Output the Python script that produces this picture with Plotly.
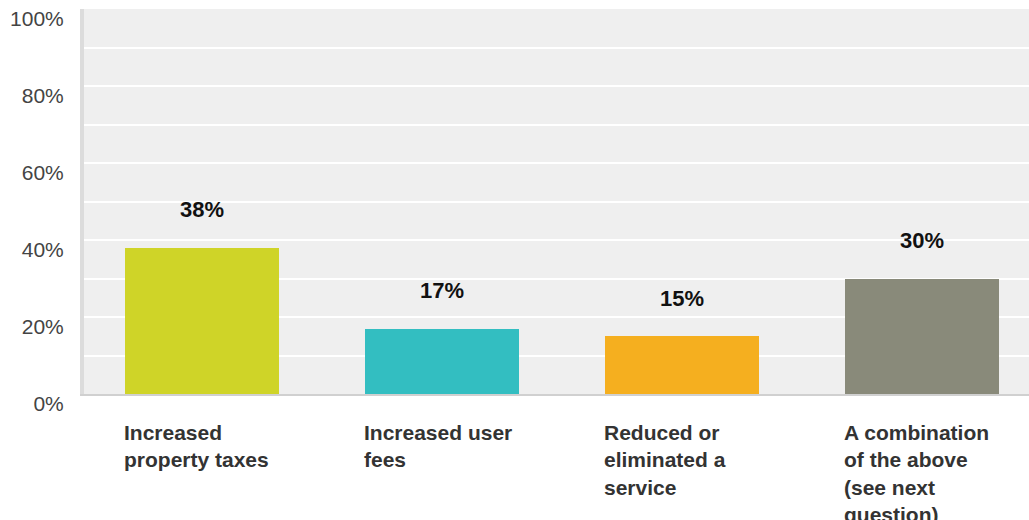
import plotly.graph_objects as go

# Survey responses: share of respondents per option
categories = ["Increased property taxes", "Increased user fees",
              "Reduced or eliminated a service",
              "A combination of the above (see next question)"]
label_lines = [
    ["Increased", "property taxes"],
    ["Increased user", "fees"],
    ["Reduced or", "eliminated a", "service"],
    ["A combination", "of the above", "(see next", "question)"],
]
values = [38, 17, 15, 30]
colors = ["#CFD428", "#33BEC1", "#F5AF1F", "#898A7A"]
ytick_vals = [0, 20, 40, 60, 80, 100]
ytick_text = ["0%", "20%", "40%", "60%", "80%", "100%"]

FONT = "Liberation Sans, Arial, sans-serif"
BAR_WIDTH = 0.642

xpos = list(range(len(categories)))

fig = go.Figure(go.Bar(
    x=xpos, y=values, width=BAR_WIDTH,
    marker=dict(color=colors, line=dict(width=0)),
    hovertext=categories, hoverinfo="text+y",
))

annotations = []
# value labels above each bar
for i, v in enumerate(values):
    annotations.append(dict(
        x=i, y=v, xref="x", yref="y", text=f"<b>{v}%</b>",
        showarrow=False, xanchor="center", yanchor="middle", yshift=38,
        font=dict(family=FONT, size=22, color="#111111"),
    ))
# category labels, left-aligned with the bar's left edge
for i, lines in enumerate(label_lines):
    for j, line in enumerate(lines):
        annotations.append(dict(
            x=i - BAR_WIDTH / 2, y=0, xref="x", yref="y",
            text=f"<b>{line}</b>", showarrow=False,
            xanchor="left", yanchor="middle",
            xshift=-3, yshift=-38 - 27.5 * j,
            font=dict(family=FONT, size=21, color="#333333"),
        ))

fig.update_layout(
    width=1029, height=520,
    margin=dict(l=84, r=0, t=9, b=126),
    paper_bgcolor="white", plot_bgcolor="#EFEFEF",
    showlegend=False, bargap=0,
    font=dict(family=FONT, size=21, color="#444444"),
    annotations=annotations,
    xaxis=dict(
        range=[-0.4917, 3.4458], showticklabels=False, showgrid=False,
        zeroline=False, showline=True, linecolor="#D0D0D0", linewidth=2,
        fixedrange=True,
    ),
    yaxis=dict(
        range=[0, 100], tickvals=ytick_vals, ticktext=ytick_text,
        showgrid=True, gridcolor="white", gridwidth=2,
        minor=dict(dtick=10, showgrid=True, gridcolor="white", gridwidth=2),
        zeroline=False, showline=True, linecolor="#DCDCDC", linewidth=4,
        ticks="", ticklabelstandoff=12, ticklabelshift=10,
        tickfont=dict(family=FONT, size=21, color="#444444"),
        fixedrange=True,
    ),
)

fig.write_html("out.html")
